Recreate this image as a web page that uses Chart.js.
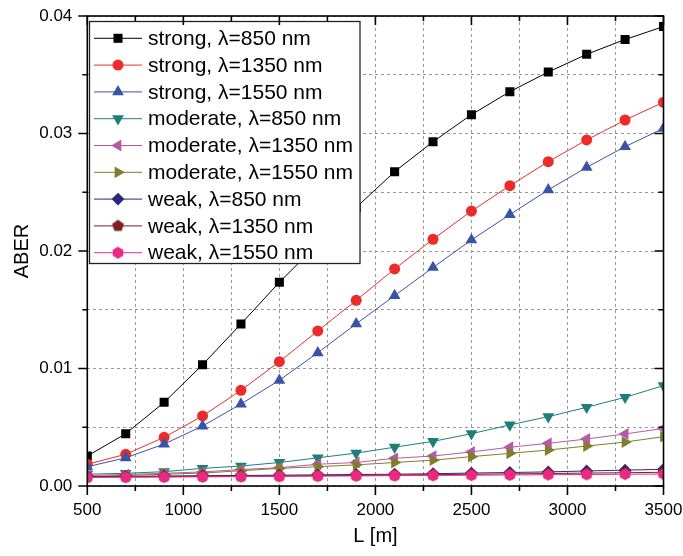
<!DOCTYPE html>
<html>
<head>
<meta charset="utf-8">
<script src="https://cdn.jsdelivr.net/npm/chart.js@4.4.0/dist/chart.umd.min.js"></script>
<style>
    html, body { margin: 0; padding: 0; background: #fff; }
    #wrap { width: 683px; height: 556px; }
</style>
</head>
<body>
<div id="wrap"><canvas id="grafico" width="683" height="556"></canvas></div>
<script>
// Dados
const lengths = [500, 700, 900, 1100, 1300, 1500, 1700, 1900, 2100, 2300, 2500, 2700, 2900, 3100, 3300, 3500];

const strong850  = [0.00255, 0.00445, 0.00712, 0.01032, 0.01379, 0.01734, 0.0206, 0.0237, 0.02675, 0.0293, 0.0316, 0.03356, 0.03523, 0.03674, 0.0380, 0.0391];
const strong1350 = [0.00185, 0.0027, 0.00414, 0.00596, 0.00814, 0.01058, 0.0132, 0.0158, 0.01847, 0.021, 0.0234, 0.02556, 0.0276, 0.02945, 0.03115, 0.03266];
const strong1550 = [0.00164, 0.0024, 0.00357, 0.0051, 0.00698, 0.0090, 0.01134, 0.0138, 0.0162, 0.0186, 0.02094, 0.0231, 0.0252, 0.02712, 0.02888, 0.03044];
const moderate850  = [0.0010, 0.00108, 0.00122, 0.0015, 0.0017, 0.0020, 0.0024, 0.0028, 0.0033, 0.0038, 0.00445, 0.0052, 0.0059, 0.0067, 0.00755, 0.00854];
const moderate1350 = [0.0009, 0.00098, 0.00108, 0.0012, 0.0014, 0.00156, 0.00185, 0.002, 0.00236, 0.00255, 0.0029, 0.0033, 0.00363, 0.004, 0.00443, 0.0049];
const moderate1550 = [0.0008, 0.0009, 0.001, 0.0011, 0.0013, 0.0015, 0.00164, 0.0018, 0.002, 0.0022, 0.0025, 0.00278, 0.00306, 0.0034, 0.00374, 0.0042];
const weak850  = [0.0008, 0.00082, 0.00085, 0.00088, 0.0009, 0.00092, 0.00095, 0.00098, 0.001, 0.00105, 0.0011, 0.00115, 0.0012, 0.00128, 0.00135, 0.00142];
const weak1350 = [0.00076, 0.00078, 0.0008, 0.00082, 0.00084, 0.00086, 0.00088, 0.0009, 0.00093, 0.00096, 0.001, 0.00103, 0.00106, 0.0011, 0.00113, 0.00117];
const weak1550 = [0.00074, 0.00075, 0.00076, 0.00078, 0.0008, 0.00082, 0.00084, 0.00086, 0.00088, 0.0009, 0.00092, 0.00094, 0.00096, 0.00098, 0.001, 0.00102];

const seriesLabels = [
    'strong, λ=850 nm', 'strong, λ=1350 nm', 'strong, λ=1550 nm',
    'moderate, λ=850 nm', 'moderate, λ=1350 nm', 'moderate, λ=1550 nm',
    'weak, λ=850 nm', 'weak, λ=1350 nm', 'weak, λ=1550 nm'
];
const seriesValues = [strong850, strong1350, strong1550, moderate850, moderate1350, moderate1550, weak850, weak1350, weak1550];

const FONT = "'Liberation Sans', Arial, sans-serif";

// marcador poligonal (pentágono / hexágono) desenhado num canvas
function polygonMarker(sides, radius, color) {
    const size = Math.ceil(radius * 2 + 2);
    const c = document.createElement('canvas');
    c.width = size;
    c.height = size;
    const g = c.getContext('2d');
    g.fillStyle = color;
    g.beginPath();
    for (let i = 0; i < sides; i++) {
        const a = -Math.PI / 2 + i * 2 * Math.PI / sides;
        const px = size / 2 + radius * Math.cos(a);
        const py = size / 2 + radius * Math.sin(a);
        if (i === 0) g.moveTo(px, py); else g.lineTo(px, py);
    }
    g.closePath();
    g.fill();
    return c;
}

const styles = [
    { color: '#000000', pointStyle: 'rect', rotation: 0, radius: 6.4 },
    { color: '#ee2b2b', pointStyle: 'circle', rotation: 0, radius: 5.5 },
    { color: '#3a54a5', pointStyle: 'triangle', rotation: 0, radius: 6.8 },
    { color: '#1e7f79', pointStyle: 'triangle', rotation: 180, radius: 6.8 },
    { color: '#b65aa8', pointStyle: 'triangle', rotation: 270, radius: 6.8 },
    { color: '#7f7e2b', pointStyle: 'triangle', rotation: 90, radius: 6.8 },
    { color: '#29297a', pointStyle: 'rectRot', rotation: 0, radius: 6.4 },
    { color: '#7d1d20', pointStyle: polygonMarker(5, 6.2, '#7d1d20'), rotation: 0, radius: 6 },
    { color: '#ea2a82', pointStyle: polygonMarker(6, 6, '#ea2a82'), rotation: 0, radius: 6 }
];

const datasets = seriesValues.map((vals, i) => ({
    label: seriesLabels[i],
    data: lengths.map((x, j) => ({ x: x, y: vals[j] })),
    borderColor: styles[i].color,
    backgroundColor: styles[i].color,
    borderWidth: 1,
    pointStyle: styles[i].pointStyle,
    pointRotation: styles[i].rotation,
    pointRadius: styles[i].radius,
    pointBorderWidth: 0,
    pointBackgroundColor: styles[i].color,
    tension: 0,
    order: seriesValues.length - i
}));

// legenda dentro da área do gráfico, com fundo branco
const legendaPlugin = {
    id: 'legendaInterna',
    afterDatasetsDraw(chart) {
        const ctx = chart.ctx;
        const box = { left: 89.5, top: 21.5, right: 360, bottom: 263.5 };
        ctx.save();
        ctx.fillStyle = '#fff';
        ctx.fillRect(box.left, box.top, box.right - box.left, box.bottom - box.top);
        ctx.strokeStyle = '#222';
        ctx.lineWidth = 1.3;
        ctx.strokeRect(box.left, box.top, box.right - box.left, box.bottom - box.top);
        ctx.font = '21px ' + FONT;
        ctx.textBaseline = 'middle';
        ctx.textAlign = 'left';
        chart.data.datasets.forEach((ds, i) => {
            const y = 38.3 + i * 26.8;
            ctx.strokeStyle = ds.borderColor;
            ctx.lineWidth = 1;
            ctx.beginPath();
            ctx.moveTo(94, y);
            ctx.lineTo(142, y);
            ctx.stroke();
            ctx.fillStyle = ds.pointBackgroundColor;
            Chart.helpers.drawPoint(ctx, {
                pointStyle: ds.pointStyle,
                rotation: ds.pointRotation,
                radius: ds.pointRadius,
                borderWidth: 0
            }, 118, y);
            ctx.fillStyle = '#000';
            ctx.fillText(ds.label, 148, y + 1);
        });
        ctx.restore();
    }
};

// moldura com marcas: para fora à esquerda/embaixo, para dentro em cima/direita
const molduraPlugin = {
    id: 'moldura',
    afterDraw(chart) {
        const ctx = chart.ctx;
        const a = chart.chartArea;
        const xs = chart.scales.x;
        const ys = chart.scales.y;
        ctx.save();
        ctx.strokeStyle = '#000';
        ctx.lineWidth = 1.6;
        ctx.strokeRect(a.left, a.top, a.right - a.left, a.bottom - a.top);
        ctx.beginPath();
        xs.ticks.forEach(t => {
            const px = xs.getPixelForValue(t.value);
            const len = t.value % 500 === 0 ? 9 : 5;
            ctx.moveTo(px, a.bottom);
            ctx.lineTo(px, a.bottom + len);
            ctx.moveTo(px, a.top);
            ctx.lineTo(px, a.top + len);
        });
        ys.ticks.forEach(t => {
            const py = ys.getPixelForValue(t.value);
            const major = Math.abs(t.value * 100 - Math.round(t.value * 100)) < 1e-6;
            const len = major ? 9 : 5;
            ctx.moveTo(a.left, py);
            ctx.lineTo(a.left - len, py);
            ctx.moveTo(a.right, py);
            ctx.lineTo(a.right - len, py);
        });
        ctx.stroke();
        ctx.restore();
    }
};

new Chart(document.getElementById('grafico'), {
    type: 'line',
    data: { datasets: datasets },
    options: {
        responsive: false,
        animation: false,
        devicePixelRatio: 1,
        layout: { padding: { top: 16, right: 19.5, bottom: 0, left: 0 } },
        plugins: {
            legend: { display: false },
            tooltip: { enabled: false }
        },
        scales: {
            x: {
                type: 'linear',
                min: 500,
                max: 3500,
                afterFit: function(scale) {
                    scale.height = 70;
                    scale.paddingLeft = 0;
                    scale.paddingRight = 0;
                },
                ticks: {
                    stepSize: 250,
                    autoSkip: false,
                    maxRotation: 0,
                    padding: 14,
                    color: '#000',
                    font: { family: FONT, size: 17 },
                    callback: function(value) {
                        return value % 500 === 0 ? String(value) : '';
                    }
                },
                grid: {
                    color: '#999',
                    lineWidth: 1,
                    drawTicks: false
                },
                border: { display: false, dash: [3, 3] },
                title: {
                    display: true,
                    text: 'L [m]',
                    color: '#000',
                    font: { family: FONT, size: 20 },
                    padding: { top: 0, bottom: 8 }
                }
            },
            y: {
                min: 0,
                max: 0.04,
                afterFit: function(scale) {
                    scale.width = 87.3;
                    scale.paddingTop = 0;
                    scale.paddingBottom = 0;
                },
                ticks: {
                    stepSize: 0.005,
                    autoSkip: false,
                    padding: 15,
                    color: '#000',
                    font: { family: FONT, size: 17 },
                    callback: function(value) {
                        const major = Math.abs(value * 100 - Math.round(value * 100)) < 1e-6;
                        return major ? value.toFixed(2) : '';
                    }
                },
                grid: {
                    color: '#999',
                    lineWidth: 1,
                    drawTicks: false
                },
                border: { display: false, dash: [3, 3] },
                title: {
                    display: true,
                    text: 'ABER',
                    color: '#000',
                    font: { family: FONT, size: 20 },
                    padding: { top: 10, bottom: 0 }
                }
            }
        }
    },
    plugins: [legendaPlugin, molduraPlugin]
});
</script>
</body>
</html>
